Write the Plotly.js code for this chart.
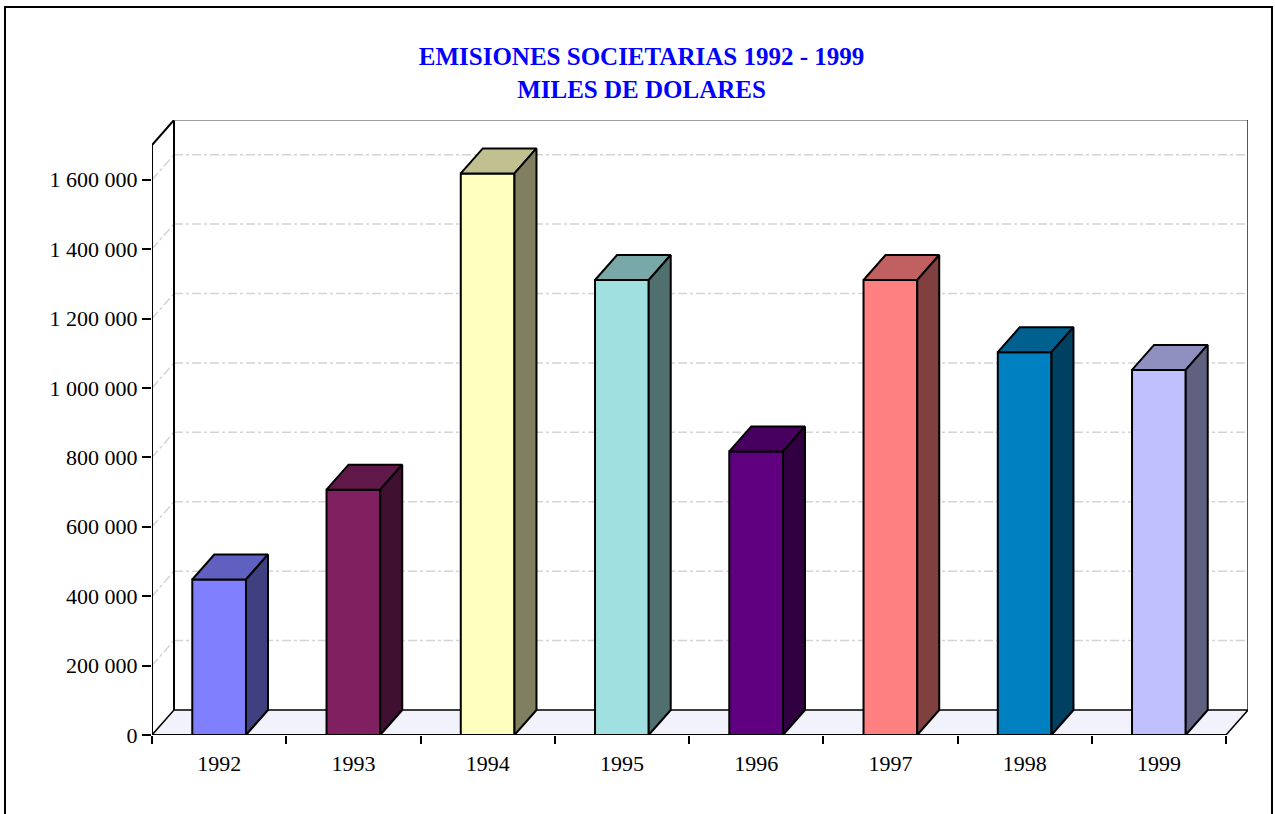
<!DOCTYPE html>
<html>
<head>
<meta charset="utf-8">
<script src="https://cdn.plot.ly/plotly-3.0.1.min.js"></script>
<style>
  html, body { margin: 0; padding: 0; background: #ffffff; }
  #chart { width: 1275px; height: 814px; }
</style>
</head>
<body>
<div id="chart"></div>
<script>
// ---- data ----
const years = ['1992', '1993', '1994', '1995', '1996', '1997', '1998', '1999'];
const values = [448000, 707000, 1618000, 1311000, 817000, 1311000, 1103000, 1052000];
const frontColors = ['#8080ff', '#802060', '#ffffc0', '#a0e0e0', '#600080', '#ff8080', '#0080c0', '#c0c0ff'];
const topColors   = ['#6060c0', '#601848', '#c0c090', '#78a8a8', '#480060', '#c06060', '#006090', '#9090c0'];
const sideColors  = ['#404080', '#401030', '#808060', '#507070', '#300040', '#804040', '#004060', '#606080'];
const yTickVals = [0, 200000, 400000, 600000, 800000, 1000000, 1200000, 1400000, 1600000];
const yTickText = ['0', '200 000', '400 000', '600 000', '800 000', '1 000 000', '1 200 000', '1 400 000', '1 600 000'];
const titleText = '<b>EMISIONES SOCIETARIAS 1992 - 1999</b><br><b>MILES DE DOLARES</b>';

// ---- geometry (3D depth) ----
const W = 1275, H = 814;
const M = { l: 152, r: 27, t: 120, b: 79 };
const plotW = W - M.l - M.r, plotH = H - M.t - M.b;
const N = years.length;
const YMAX = 1700000;              // top of front value axis
const DEPTH_PX_X = 22, DEPTH_PX_Y = 25;
const DX = DEPTH_PX_X * N / (plotW - DEPTH_PX_X);        // depth in category units
const pxPerUnitY = (plotH - DEPTH_PX_Y) / YMAX;
const DY = DEPTH_PX_Y / pxPerUnitY;                        // depth in value units
const XL = -0.5, XR = N - 0.5;
const HALF = 0.2;                                          // half bar width

const shapes = [];
function seg(x0, y0, x1, y1, color, width, dash) {
  shapes.push({ type: 'line', xref: 'x', yref: 'y', x0, y0, x1, y1, layer: 'below',
    line: { color, width, dash: dash || 'solid' } });
}
// floor
shapes.push({ type: 'path', xref: 'x', yref: 'y', layer: 'below',
  path: `M ${XL} 0 L ${XR} 0 L ${XR + DX} ${DY} L ${XL + DX} ${DY} Z`,
  fillcolor: '#f2f2fd', line: { color: '#000000', width: 1.5 } });
// gridlines on back wall and left side wall
yTickVals.forEach(v => {
  if (v === 0) return;
  seg(XL + DX, v + DY, XR + DX, v + DY, '#d4d4d4', 1.5, 'dashdot');
  seg(XL, v, XL + DX, v + DY, '#d4d4d4', 1.5, 'dashdot');
});
// walls outline
seg(XL, 0, XL, YMAX, '#000000', 2);
seg(XL, YMAX, XL + DX, YMAX + DY, '#000000', 2);
seg(XL + DX, DY, XL + DX, YMAX + DY, '#000000', 2);
seg(XL + DX, YMAX + DY, XR + DX, YMAX + DY, '#808080', 1.5);
seg(XR + DX, DY, XR + DX, YMAX + DY, '#202020', 1.5);
seg(XL, 0, XR, 0, '#000000', 2);

// outer frame (paper coords)
const px2paperX = px => (px - M.l) / plotW;
const py2paperY = py => (H - M.b - py) / plotH;
shapes.push({ type: 'rect', xref: 'paper', yref: 'paper',
  x0: px2paperX(5), x1: px2paperX(1272), y0: py2paperY(830), y1: py2paperY(7),
  line: { color: '#000000', width: 2 }, fillcolor: 'rgba(0,0,0,0)', layer: 'below' });

// ---- traces ----
const xs = years.map((_, i) => i);
const edge = { color: '#000000', width: 2 };
const traces = [{
  type: 'bar', x: xs, y: values, width: HALF * 2,
  marker: { color: frontColors, line: edge },
  hoverinfo: 'skip', showlegend: false
}];
values.forEach((v, i) => {
  const xa = i - HALF, xb = i + HALF;
  traces.push({
    type: 'scatter', mode: 'lines', fill: 'toself', fillcolor: topColors[i],
    x: [xa, xa + DX, xb + DX, xb, xa], y: [v, v + DY, v + DY, v, v],
    line: edge, hoverinfo: 'skip', showlegend: false
  });
  traces.push({
    type: 'scatter', mode: 'lines', fill: 'toself', fillcolor: sideColors[i],
    x: [xb, xb, xb + DX, xb + DX, xb], y: [0, v, v + DY, DY, 0],
    line: edge, hoverinfo: 'skip', showlegend: false
  });
});

const tickFont = { family: 'Liberation Serif', size: 22, color: '#000000' };
const minorVals = [];
for (let k = 0; k <= N; k++) minorVals.push(XL + k);

const layout = {
  width: W, height: H,
  margin: M,
  paper_bgcolor: '#ffffff', plot_bgcolor: 'rgba(0,0,0,0)',
  showlegend: false,
  bargap: 0,
  title: {
    text: titleText,
    font: { family: 'Liberation Serif', size: 25, color: '#0000ff' },
    x: 641.5 / W, xanchor: 'center', xref: 'container',
    y: 1 - 65 / H, yanchor: 'top', yref: 'container'
  },
  xaxis: {
    range: [XL, XR + DX], showgrid: false, zeroline: false, showline: false,
    tickmode: 'array', tickvals: xs, ticktext: years, ticks: '',
    tickfont: tickFont, ticklabelstandoff: 13, fixedrange: true,
    minor: { tickmode: 'array', tickvals: minorVals, ticks: 'outside', ticklen: 8, tickwidth: 2, tickcolor: '#000000', showgrid: false }
  },
  yaxis: {
    range: [0, YMAX + DY], showgrid: false, zeroline: false, showline: false,
    tickmode: 'array', tickvals: yTickVals, ticktext: yTickText,
    ticks: 'outside', ticklen: 9, tickwidth: 2, tickcolor: '#000000',
    tickfont: tickFont, fixedrange: true
  },
  shapes
};

Plotly.newPlot('chart', traces, layout, { staticPlot: true, displayModeBar: false });
</script>
</body>
</html>
